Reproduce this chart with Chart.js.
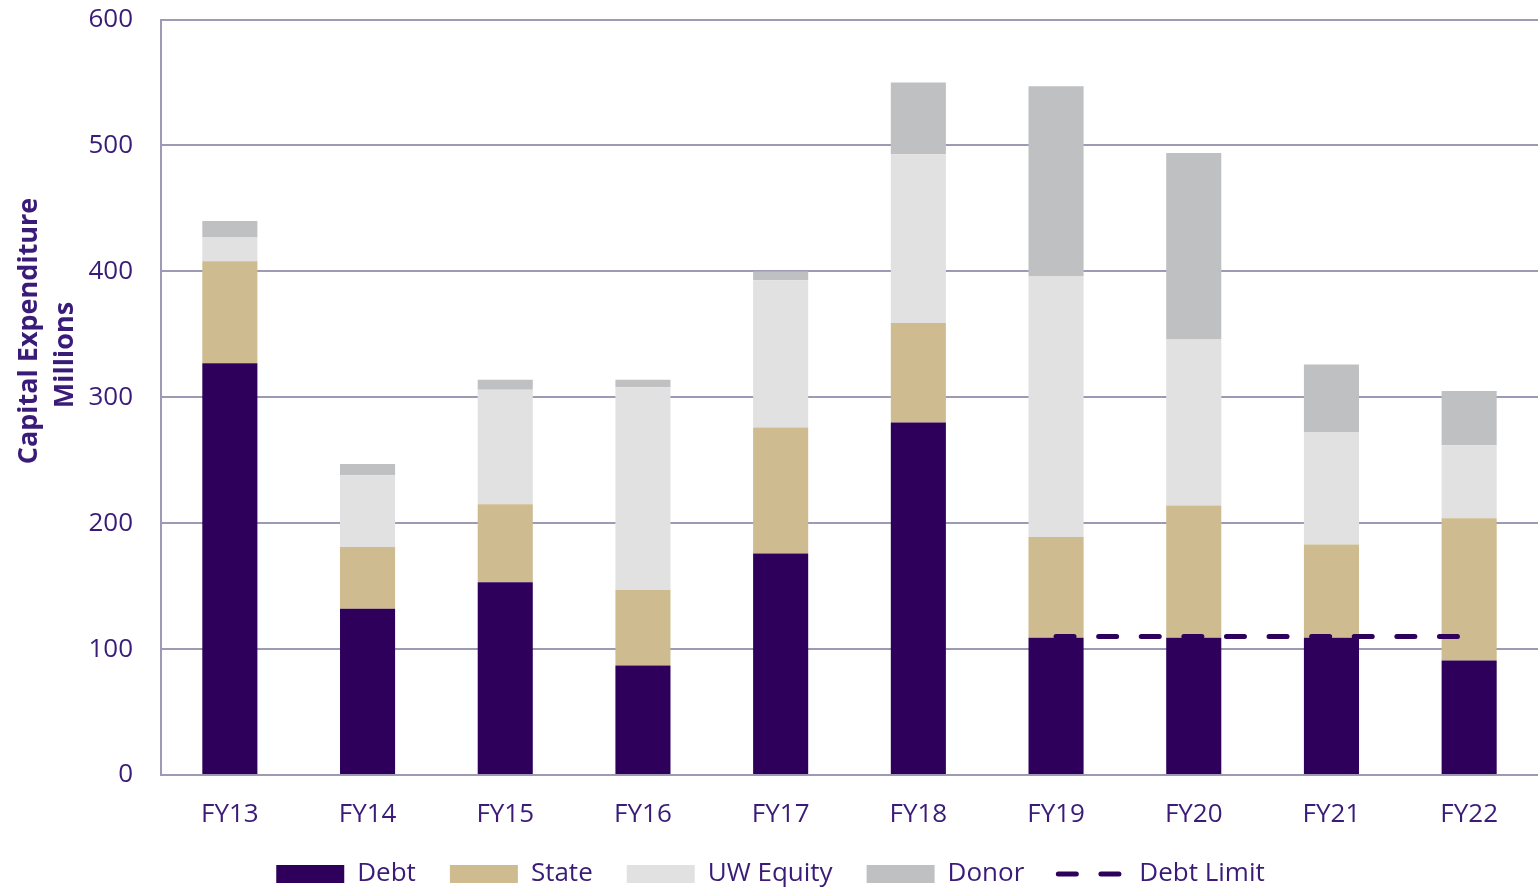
<!DOCTYPE html>
<html>
<head>
<meta charset="utf-8">
<script src="https://cdn.jsdelivr.net/npm/chart.js@4"></script>
<style>
  html, body { margin: 0; padding: 0; background: #fff; }
  #wrap { width: 1538px; height: 888px; }
</style>
</head>
<body>
<div id="wrap"><canvas id="capex"></canvas></div>
<script>
// values in millions
const years = ['FY13', 'FY14', 'FY15', 'FY16', 'FY17', 'FY18', 'FY19', 'FY20', 'FY21', 'FY22'];
const debt = [327, 132, 153, 87, 176, 280, 109, 109, 109, 91];
const state = [81, 49, 62, 60, 100, 79, 80, 105, 74, 113];
const uwEquity = [19, 57, 91, 161, 117, 134, 207, 132, 89, 58];
const donor = [13, 9, 8, 6, 7, 57, 151, 148, 54, 43];
const debtLimit = [null, null, null, null, null, null, 110, 110, 110, 110];
const yTicks = [0, 100, 200, 300, 400, 500, 600];
const yTitle = ['Capital Expenditure', 'Millions'];

const purple = '#2e005c';
const textPurple = '#3a1c78';
const gridColor = '#9e9ab5';
const limitDash = [18, 24.6];

// y axis title, drawn as two rotated lines like the original
const axisTitle = {
    id: 'axisTitle',
    afterDraw(chart) {
        const c = chart.ctx;
        c.save();
        c.font = 'bold 27px "Open Sans", sans-serif';
        c.fillStyle = textPurple;
        c.textAlign = 'center';
        c.textBaseline = 'alphabetic';
        const spots = [[37, 331], [73, 355]];
        yTitle.forEach((t, i) => {
            c.save();
            c.translate(spots[i][0], spots[i][1]);
            c.rotate(-Math.PI / 2);
            c.fillText(t, 0, 0);
            c.restore();
        });
        c.restore();
    }
};

onload = function () {
    Chart.defaults.font.family = '"Open Sans", sans-serif';
    Chart.defaults.color = textPurple;

    const bar = (label, data, color) => ({
        type: 'bar',
        label: label,
        data: data,
        backgroundColor: color,
        borderWidth: 0,
        stack: 'capex',
        categoryPercentage: 1,
        barPercentage: 0.4,
        pointStyle: 'rect',
        order: 2
    });

    ctx = document.getElementById('capex').getContext('2d');
    new Chart(ctx, {
        data: {
            labels: years,
            datasets: [
                bar('Debt', debt, purple),
                bar('State', state, '#cebb8f'),
                bar('UW Equity', uwEquity, '#e1e1e1'),
                bar('Donor', donor, '#bfc0c2'),
                {
                    type: 'line',
                    label: 'Debt Limit',
                    data: debtLimit,
                    borderColor: purple,
                    backgroundColor: purple,
                    borderWidth: 5,
                    borderDash: limitDash,
                    borderCapStyle: 'round',
                    pointRadius: 0,
                    pointStyle: 'line',
                    fill: false,
                    stack: 'limit',
                    order: 1
                }
            ]
        },
        plugins: [axisTitle],
        options: {
            responsive: true,
            maintainAspectRatio: false,
            animation: false,
            layout: { padding: { top: 0, right: -3, left: 0, bottom: -9 } },
            plugins: {
                tooltip: { enabled: false },
                legend: {
                    position: 'bottom',
                    labels: {
                        usePointStyle: true,
                        pointStyleWidth: 68,
                        boxWidth: 68,
                        boxHeight: 18,
                        padding: 34,
                        font: { size: 26 },
                        color: textPurple,
                        sort: (a, b) => a.datasetIndex - b.datasetIndex,
                        generateLabels: (chart) => {
                            const items = Chart.defaults.plugins.legend.labels.generateLabels(chart);
                            items.forEach(it => {
                                if (it.text === 'Debt Limit') {
                                    it.lineDash = limitDash;
                                    it.lineWidth = 5;
                                    it.lineCap = 'round';
                                    it.strokeStyle = purple;
                                    it.pointStyle = 'line';
                                }
                            });
                            return items;
                        }
                    }
                }
            },
            scales: {
                x: {
                    stacked: true,
                    grid: { display: false, drawTicks: false },
                    border: { display: false },
                    ticks: { padding: 24, font: { size: 26 }, color: textPurple },
                    afterFit: (axis) => { axis.height = 52; }
                },
                y: {
                    stacked: true,
                    min: 0,
                    max: 600,
                    afterBuildTicks: (axis) => { axis.ticks = yTicks.map(v => ({ value: v })); },
                    afterFit: (axis) => { axis.width = 161; },
                    grid: { color: gridColor, lineWidth: 2, drawTicks: true, tickLength: 24, tickColor: 'transparent' },
                    border: { display: true, color: gridColor, width: 2 },
                    ticks: { padding: 4, font: { size: 26 }, color: textPurple }
                }
            }
        }
    });
}
</script>
</body>
</html>
